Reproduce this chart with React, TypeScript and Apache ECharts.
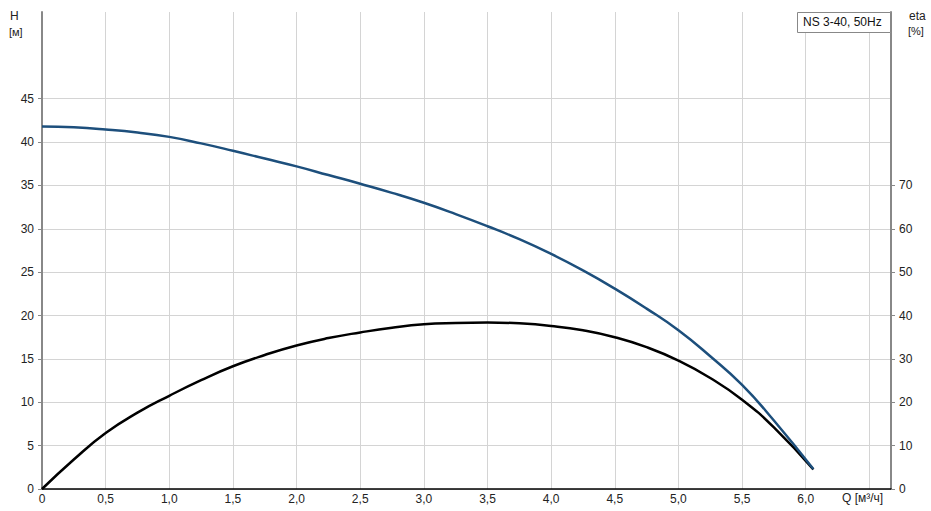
import React, { useEffect, useRef } from "react";
import * as echarts from "echarts";

const flowQ = [0, 0.25, 0.5, 0.75, 1.0, 1.25, 1.5, 1.75, 2.0, 2.25, 2.5, 2.75, 3.0, 3.25, 3.5, 3.75, 4.0, 4.25, 4.5, 4.75, 5.0, 5.25, 5.5, 5.75, 6.06];
const headH = [41.8, 41.7, 41.45, 41.1, 40.6, 39.85, 39.0, 38.1, 37.2, 36.2, 35.2, 34.15, 33.0, 31.7, 30.3, 28.8, 27.1, 25.2, 23.1, 20.8, 18.3, 15.3, 12.0, 7.9, 2.3];
const effEta = [0, 6.8, 12.9, 17.6, 21.5, 25.1, 28.3, 30.9, 33.1, 34.8, 36.1, 37.2, 38.0, 38.3, 38.4, 38.2, 37.6, 36.6, 35.0, 32.7, 29.6, 25.6, 20.6, 14.2, 4.5];
const xTicks = [0, 0.5, 1.0, 1.5, 2.0, 2.5, 3.0, 3.5, 4.0, 4.5, 5.0, 5.5, 6.0];
const hTicks = [0, 5, 10, 15, 20, 25, 30, 35, 40, 45];
const etaTicks = [0, 10, 20, 30, 40, 50, 60, 70];
const legendText = "NS 3-40, 50Hz";

const FONT = "Liberation Sans, Arial, sans-serif";
const LABEL_COLOR = "#222";

export default function App() {
  const ref = useRef<HTMLDivElement>(null);
  useEffect(() => {
    if (!ref.current) return;
    const chart = echarts.init(ref.current, undefined, { renderer: "svg" });
    const fmtX = (v: number) => (v === 0 ? "0" : v.toFixed(1).replace(".", ","));
    chart.setOption({
      animation: false,
      backgroundColor: "#fff",
      textStyle: { fontFamily: FONT },
      grid: { left: 42, right: 40, top: 12, bottom: 22, containLabel: false },
      xAxis: {
        type: "value",
        min: 0,
        max: 6.67,
        interval: 0.5,
        axisLine: { show: true, lineStyle: { color: "#000", width: 1.5 } },
        axisTick: { show: false },
        axisLabel: {
          customValues: xTicks,
          formatter: fmtX,
          color: LABEL_COLOR,
          fontSize: 12,
          fontFamily: FONT,
          margin: 4,
        },
        splitLine: { show: true, lineStyle: { color: "#d4d4d4", width: 1 } },
      },
      yAxis: [
        {
          type: "value",
          min: 0,
          max: 55,
          interval: 5,
          position: "left",
          axisLine: { show: true, onZero: false, lineStyle: { color: "#888", width: 2 } },
          axisTick: { show: true, customValues: hTicks, length: 4, lineStyle: { color: "#888", width: 1 } },
          axisLabel: { customValues: hTicks, color: LABEL_COLOR, fontSize: 12, fontFamily: FONT, margin: 8 },
          splitLine: { show: true, lineStyle: { color: "#d4d4d4", width: 1 } },
        },
        {
          type: "value",
          min: 0,
          max: 110,
          interval: 10,
          position: "right",
          axisLine: { show: true, onZero: false, lineStyle: { color: "#888", width: 2 } },
          axisTick: { show: true, customValues: etaTicks, length: 4, lineStyle: { color: "#888", width: 1 } },
          axisLabel: { customValues: etaTicks, color: LABEL_COLOR, fontSize: 12, fontFamily: FONT, margin: 8 },
          splitLine: { show: false },
        },
      ],
      series: [
        {
          name: "eta",
          type: "line",
          yAxisIndex: 1,
          smooth: 0.5,
          showSymbol: false,
          data: flowQ.map((q, i) => [q, effEta[i]]),
          lineStyle: { color: "#000", width: 2.5 },
          z: 2,
        },
        {
          name: "H",
          type: "line",
          yAxisIndex: 0,
          smooth: 0.5,
          showSymbol: false,
          data: flowQ.map((q, i) => [q, headH[i]]),
          lineStyle: { color: "#1d4f7c", width: 2.5 },
          z: 3,
        },
      ],
      graphic: [
        { type: "text", left: 10, top: 10, style: { text: "H", fontSize: 12, fontFamily: FONT, fill: LABEL_COLOR } },
        { type: "text", left: 9, top: 26, style: { text: "[м]", fontSize: 11, fontFamily: FONT, fill: LABEL_COLOR } },
        { type: "text", left: 909, top: 10, style: { text: "eta", fontSize: 12, fontFamily: FONT, fill: LABEL_COLOR } },
        { type: "text", left: 908, top: 25, style: { text: "[%]", fontSize: 11, fontFamily: FONT, fill: LABEL_COLOR } },
        { type: "text", left: 842, top: 492, style: { text: "Q [м³/ч]", fontSize: 12, fontFamily: FONT, fill: LABEL_COLOR } },
        {
          type: "rect",
          left: 797,
          top: 12,
          shape: { width: 93, height: 20 },
          style: { fill: "#fff", stroke: "#888", lineWidth: 1 },
          z: 10,
        },
        {
          type: "text",
          left: 803,
          top: 16,
          style: { text: legendText, fontSize: 12, fontFamily: FONT, fill: "#111" },
          z: 11,
        },
      ],
    });
    return () => chart.dispose();
  }, []);
  return (
    <div
      ref={ref}
      style={{ position: "fixed", left: 0, top: 0, width: 931, height: 511, background: "#fff" }}
    />
  );
}
